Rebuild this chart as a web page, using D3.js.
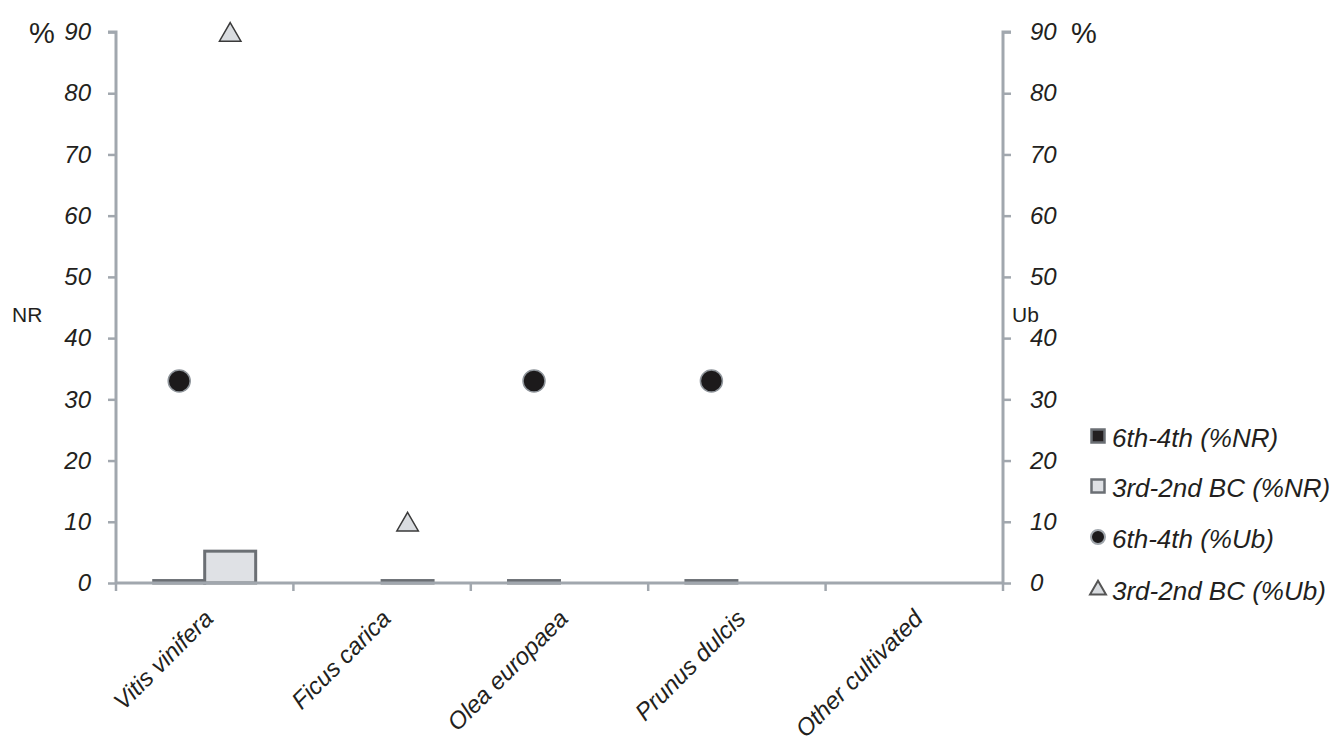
<!DOCTYPE html>
<html><head><meta charset="utf-8">
<script src="https://cdn.jsdelivr.net/npm/d3@7"></script>
<style>body{margin:0;background:#fff}svg{display:block}text{font-family:"Liberation Sans",Arial,sans-serif;fill:#231f20}</style>
</head><body><svg id="c" width="1336" height="753"></svg>
<script>
const categories = ["Vitis vinifera","Ficus carica","Olea europaea","Prunus dulcis","Other cultivated"];
const nr6th4th = [0.4, 0, 0.4, 0.4, 0];
const nr3rd2nd = [5.2, 0.4, 0, 0, 0];
const ub6th4th = [33, null, 33, 33, null];
const ub3rd2nd = [90, 10, null, null, null];
const yTicks = [0,10,20,30,40,50,60,70,80,90];
const legendLabels = ["6th-4th (%NR)","3rd-2nd BC (%NR)","6th-4th (%Ub)","3rd-2nd BC (%Ub)"];

const svg = d3.select("#c");
const L = 116, R = 1003, T = 32, B = 583;
const axisCol = "#a1a7ae";
const x = d3.scaleBand().domain(categories).range([L, R]).paddingInner(0).paddingOuter(0);
const sub = d3.scaleBand().domain(["a","b"]).range([0, x.bandwidth()]).paddingInner(0).paddingOuter(0.74);
const y = d3.scaleLinear().domain([0, 90]).range([B, T]);

// bars
const barSeries = [
  {key:"a", vals:nr6th4th, fill:"#231f20", stroke:"#6b6f74"},
  {key:"b", vals:nr3rd2nd, fill:"#dfe1e5", stroke:"#6b6f74"}
];
barSeries.forEach(s => {
  svg.append("g").selectAll("rect").data(categories.map((c,i)=>({c, v:s.vals[i]})).filter(d=>d.v>0))
    .join("rect")
    .attr("x", d => x(d.c) + sub(s.key))
    .attr("width", sub.bandwidth())
    .attr("y", d => y(d.v))
    .attr("height", d => B - y(d.v))
    .attr("fill", s.fill).attr("stroke", s.stroke).attr("stroke-width", 3);
});

// axes
const gL = svg.append("g").attr("transform", `translate(${L},0)`)
  .call(d3.axisLeft(y).tickValues(yTicks).tickSize(8).tickPadding(17));
const gR = svg.append("g").attr("transform", `translate(${R},0)`)
  .call(d3.axisRight(y).tickValues(yTicks).tickSize(8).tickPadding(19));
[gL, gR].forEach(g => {
  g.select(".domain").attr("stroke", axisCol).attr("stroke-width", 3);
  g.selectAll(".tick line").attr("stroke", axisCol).attr("stroke-width", 2.5);
  g.selectAll(".tick text").style("font-size", "24px").style("font-style", "italic").attr("fill", "#231f20");
});
gL.select(".domain").attr("d", `M-8,${T}H0V${B}`);
gR.select(".domain").attr("d", `M8,${T}H0V${B}`);

const gB = svg.append("g").attr("transform", `translate(0,${B})`)
  .call(d3.axisBottom(x).tickSize(0).tickFormat(""));
gB.select(".domain").attr("stroke", axisCol).attr("stroke-width", 3).attr("d", `M${L},0H${R}`);
gB.selectAll(".tick").remove();
const bounds = categories.map(c => x(c)).concat([R]);
gB.selectAll("line.bt").data(bounds).join("line").attr("class","bt")
  .attr("x1", d=>d).attr("x2", d=>d).attr("y1", 0).attr("y2", 8)
  .attr("stroke", axisCol).attr("stroke-width", 2.5);
gB.selectAll("text.cl").data(categories).join("text").attr("class","cl")
  .attr("transform", c => `translate(${x(c) + x.bandwidth()/2 + 10},37) rotate(-45)`)
  .attr("text-anchor", "end")
  .style("font-size", "24px").style("font-style", "italic")
  .text(c => c);

// points
const cx = (c, k) => x(c) + sub(k) + sub.bandwidth()/2;
svg.append("g").selectAll("circle").data(categories.map((c,i)=>({c, v:ub6th4th[i]})).filter(d=>d.v!=null))
  .join("circle").attr("cx", d=>cx(d.c,"a")).attr("cy", d=>y(d.v)).attr("r", 11)
  .attr("fill", "#1c1a1b").attr("stroke", "#8f959b").attr("stroke-width", 1.5);
const tri = d3.symbol().type(d3.symbolTriangle).size(200);
svg.append("g").selectAll("path").data(categories.map((c,i)=>({c, v:ub3rd2nd[i]})).filter(d=>d.v!=null))
  .join("path").attr("d", tri).attr("transform", d=>`translate(${cx(d.c,"b")},${y(d.v)+3})`)
  .attr("fill", "#d9dce0").attr("stroke", "#3a3a3a").attr("stroke-width", 1.5);

// axis titles
svg.append("text").attr("x", 29).attr("y", y(90)+11).style("font-size", "29px").text("%");
svg.append("text").attr("x", 1071).attr("y", y(90)+11).style("font-size", "29px").text("%");
svg.append("text").attr("x", 12).attr("y", 322).style("font-size", "21px").text("NR");
svg.append("text").attr("x", 1012).attr("y", 322).style("font-size", "21px").text("Ub");

// legend
const lg = svg.append("g");
const ly = [447, 497, 548, 600];
legendLabels.forEach((t, i) => {
  const g = lg.append("g").attr("transform", `translate(1098,${ly[i]-11})`);
  if (i === 0) g.append("rect").attr("x",-6.5).attr("y",-6.5).attr("width",13).attr("height",13).attr("fill","#231f20").attr("stroke","#6b6f74").attr("stroke-width",2.5);
  if (i === 1) g.append("rect").attr("x",-6.5).attr("y",-6.5).attr("width",13).attr("height",13).attr("fill","#dfe1e5").attr("stroke","#6b6f74").attr("stroke-width",2.5);
  if (i === 2) g.append("circle").attr("cx",0).attr("cy",0).attr("r",7).attr("fill","#1c1a1b").attr("stroke","#a0a6ac").attr("stroke-width",2);
  if (i === 3) g.append("path").attr("d", d3.symbol().type(d3.symbolTriangle).size(110)).attr("transform","translate(0,1)").attr("fill","#d9dce0").attr("stroke","#555").attr("stroke-width",2);
  g.append("text").attr("x", 14).attr("y", 11).style("font-size", "26px").style("font-style", "italic").text(t);
});
</script></body></html>
